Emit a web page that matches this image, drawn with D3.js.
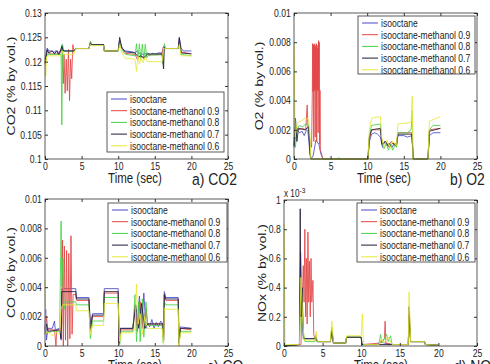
<!DOCTYPE html>
<html>
<head>
<meta charset="utf-8">
<script src="https://cdn.jsdelivr.net/npm/d3@7"></script>
<style>
  body { margin: 0; background: #fff; }
  svg { display: block; font-family: "Liberation Sans", Arial, sans-serif; }
</style>
</head>
<body>
<div id="chart"></div>
<script>
// series names and colours, in legend order
var seriesNames = ["isooctane", "isooctane-methanol 0.9", "isooctane-methanol 0.8",
                   "isooctane-methanol 0.7", "isooctane-methanol 0.6"];
var seriesColors = ["#4848c8", "#e24444", "#44d244", "#1c1c3c", "#e8e836"];

var xTicks = [0, 5, 10, 15, 20, 25];
var co2Ticks = [0.1, 0.105, 0.11, 0.115, 0.12, 0.125, 0.13];
var o2Ticks = [0, 0.002, 0.004, 0.006, 0.008, 0.01];
var coTicks = [0, 0.002, 0.004, 0.006, 0.008, 0.01];
var noxTicks = [0, 0.2, 0.4, 0.6, 0.8, 1];   // x 10^-3

// ---- a) CO2, [time, value] ----
var co2Iso = [[0,0.1205],[0.15,0.1215],[0.3,0.1228],[0.5,0.1222],[1.0,0.1222],[1.2,0.1218],[1.4,0.1222],[1.7,0.1222],[1.8,0.1216],[2.0,0.1222],[2.2,0.1222],[2.35,0.1235],[2.5,0.1222],[4.0,0.1222],[4.2,0.1227],[6.0,0.1227],[6.2,0.1238],[6.4,0.1235],[8.0,0.1235],[8.1,0.1222],[10.0,0.1222],[10.2,0.1245],[10.4,0.1232],[10.7,0.1225],[11.0,0.1222],[12.0,0.122],[12.3,0.1218],[12.6,0.1222],[13.0,0.1216],[13.5,0.1215],[14.0,0.1218],[14.3,0.1213],[14.7,0.1217],[15.0,0.1215],[15.5,0.1218],[16.0,0.1218],[16.2,0.1232],[16.4,0.1227],[18.2,0.1227],[18.35,0.1248],[18.6,0.1228],[18.9,0.1222],[20,0.1222]];
var co2M09 = [[0,0.1195],[0.3,0.1222],[0.6,0.1216],[1.5,0.1216],[2.0,0.1216],[2.3,0.1228],[2.5,0.1155],[2.6,0.1215],[2.75,0.1135],[2.9,0.1205],[3.05,0.114],[3.2,0.1225],[3.35,0.112],[3.5,0.1205],[3.65,0.1165],[3.8,0.1235],[3.95,0.1222],[4.2,0.1227],[6.0,0.1227],[6.2,0.124],[6.4,0.1235],[8.0,0.1235],[8.1,0.1222],[10.0,0.1222],[10.2,0.1243],[10.5,0.1228],[11,0.1217],[12.3,0.1215],[12.6,0.1205],[13.0,0.1212],[13.5,0.1208],[14.0,0.1214],[15,0.1214],[16.0,0.1215],[16.2,0.1232],[16.4,0.1227],[18.2,0.1227],[18.35,0.1245],[18.6,0.122],[20,0.1216]];
var co2M08 = [[0,0.1195],[0.3,0.1215],[2.0,0.1215],[2.2,0.1215],[2.3,0.107],[2.4,0.1235],[2.5,0.1222],[4.0,0.1222],[4.2,0.1227],[6.0,0.1227],[6.2,0.1242],[6.4,0.1235],[8.0,0.1235],[8.1,0.1222],[10.0,0.1222],[10.2,0.124],[10.6,0.1222],[11,0.1215],[12.3,0.1212],[12.5,0.1237],[12.7,0.1205],[12.9,0.1237],[13.1,0.1205],[13.3,0.1236],[13.5,0.1205],[13.7,0.1236],[13.9,0.1208],[14.2,0.1214],[16.0,0.1214],[16.15,0.1195],[16.3,0.1237],[16.45,0.1227],[18.2,0.1227],[18.35,0.124],[18.6,0.1215],[20,0.1212]];
var co2M07 = [[0,0.1198],[0.3,0.1225],[0.5,0.1218],[1.0,0.1222],[1.3,0.1216],[1.6,0.1222],[1.9,0.1215],[2.1,0.1222],[2.3,0.1232],[2.5,0.1222],[4.0,0.1222],[4.2,0.1227],[6.0,0.1227],[6.2,0.1238],[6.4,0.1235],[8.0,0.1235],[8.1,0.1222],[10.0,0.1222],[10.2,0.125],[10.5,0.1228],[11,0.122],[12.3,0.1218],[12.7,0.121],[13.1,0.1212],[13.5,0.1208],[14.0,0.1216],[16.0,0.1216],[16.2,0.1185],[16.3,0.123],[16.45,0.1227],[18.2,0.1227],[18.35,0.125],[18.6,0.1218],[20,0.1216]];
var co2M06 = [[0,0.1205],[0.1,0.117],[0.2,0.121],[0.4,0.1212],[2.0,0.1212],[2.2,0.1212],[2.4,0.1222],[2.6,0.1215],[3.9,0.1215],[4.2,0.1227],[6.0,0.1227],[6.2,0.1236],[6.4,0.1233],[8.0,0.1233],[8.1,0.1222],[10.0,0.1222],[10.2,0.1235],[10.6,0.1215],[11,0.1207],[12.3,0.1205],[12.5,0.118],[12.7,0.1212],[12.9,0.1195],[13.1,0.1208],[13.4,0.1198],[13.7,0.121],[14.0,0.12],[16.0,0.12],[16.2,0.1228],[16.4,0.1227],[18.2,0.1227],[18.35,0.1235],[18.6,0.1212],[20,0.1212]];

// ---- b) O2 ----
var o2Iso = [[0,0.0008],[0.1,0.0012],[0.3,0.0022],[0.5,0.0019],[0.8,0.0018],[1.1,0.0019],[1.4,0.0016],[1.7,0.002],[1.9,0.0019],[2.1,0.0008],[2.3,0],[2.6,0.0002],[3.0,0.0013],[3.4,0.001],[3.7,0.0003],[4.0,0],[10.1,0],[10.3,0.0012],[10.6,0.0017],[11.0,0.0018],[11.4,0.0017],[11.8,0.0015],[12.1,0.0008],[12.4,0.0012],[12.7,0.0009],[13.0,0.0011],[13.4,0.0008],[13.7,0.0011],[14.0,0.0009],[14.2,0.0016],[15.0,0.0016],[15.5,0.0015],[16.1,0.0016],[16.2,0.0008],[16.3,0],[18.3,0],[18.5,0.0016],[19.0,0.0018],[20,0.0018]];
var o2M09 = [[0,0.001],[0.3,0.0022],[0.6,0.002],[1.2,0.0021],[1.6,0.002],[1.8,0.0037],[1.9,0.0022],[2.2,0.0012],[2.4,0.0008],[2.5,0.0045],[2.55,0.0079],[2.6,0.0046],[2.65,0.0078],[2.7,0.0012],[2.75,0.0079],[2.8,0.0047],[2.85,0.0078],[2.9,0.0015],[2.95,0.0077],[3.0,0.0047],[3.05,0.0079],[3.1,0.0012],[3.15,0.0078],[3.2,0.0047],[3.25,0.0076],[3.3,0.0018],[3.35,0.0081],[3.4,0.0047],[3.45,0.008],[3.5,0.001],[3.55,0.0047],[3.6,0.0006],[3.8,0.0003],[3.9,0],[10.1,0],[10.3,0.0014],[10.6,0.002],[11.8,0.002],[12.1,0.001],[12.5,0.0012],[12.9,0.0009],[13.3,0.0012],[13.7,0.0009],[14.0,0.0011],[14.2,0.0018],[16.1,0.0018],[16.3,0],[18.3,0],[18.5,0.002],[20,0.0021]];
var o2M08 = [[0,0.0015],[0.2,0.0008],[0.4,0.002],[0.7,0.0023],[1.2,0.0022],[1.6,0.0024],[2.0,0.0023],[2.2,0.0005],[2.3,0],[6.0,0],[6.1,0.0001],[6.2,0],[10.1,0],[10.3,0.0017],[10.6,0.0023],[11.8,0.0024],[12.0,0.0012],[12.3,0.0007],[12.6,0.0011],[12.9,0.0006],[13.2,0.001],[13.5,0.0006],[13.8,0.001],[14.0,0.0008],[14.2,0.0018],[15.5,0.0018],[16.0,0.002],[16.15,0.0033],[16.25,0],[18.3,0],[18.5,0.002],[19,0.0023],[20,0.0023]];
var o2M07 = [[0,0.0009],[0.2,0.0028],[0.4,0.0012],[0.6,0.0021],[1.5,0.002],[2.0,0.0022],[2.2,0.0003],[2.3,0],[10.1,0],[10.3,0.0015],[10.6,0.002],[11.8,0.0021],[12.0,0.001],[12.5,0.0012],[13,0.0008],[13.5,0.0011],[14.0,0.0009],[14.2,0.0017],[16.1,0.0017],[16.3,0],[18.3,0],[18.5,0.0019],[20,0.0021]];
var o2M06 = [[0,0.008],[0.08,0.005],[0.15,0.0015],[0.3,0.002],[0.5,0.0025],[1.0,0.0026],[1.5,0.0028],[2.0,0.0027],[2.2,0.0015],[2.3,0],[10.1,0],[10.3,0.002],[10.6,0.0028],[11.8,0.0029],[12.0,0.0014],[12.3,0.0008],[12.7,0.0013],[13.1,0.0007],[13.5,0.0012],[14.0,0.0009],[14.2,0.0024],[16.0,0.0025],[16.15,0.0043],[16.25,0],[18.3,0],[18.5,0.0026],[20,0.0029]];

// ---- c) CO ----
var coIso = [[0,0.001],[0.1,0.0025],[0.2,0.0004],[0.4,0.0012],[1.0,0.0012],[1.3,0.0017],[1.4,0.0011],[2.0,0.0012],[2.2,0.0004],[2.3,0.0039],[4.2,0.0039],[4.3,0.0033],[6.0,0.0033],[6.2,0.0015],[6.5,0.0022],[8.0,0.0022],[8.1,0.0039],[10.0,0.0039],[10.1,0.0003],[10.3,0.0012],[12.0,0.0012],[12.3,0.0025],[12.6,0.0015],[12.9,0.0034],[13.2,0.0012],[13.5,0.0036],[13.8,0.0012],[14.0,0.0016],[14.3,0.0013],[14.6,0.0018],[14.9,0.0012],[15.2,0.0016],[15.5,0.0013],[15.8,0.0017],[16.1,0.0015],[16.2,0.0004],[16.3,0.0037],[16.5,0.0033],[18.2,0.0033],[18.3,0.0003],[18.5,0.0013],[20,0.0012]];
var coM09 = [[0,0.0012],[0.2,0.002],[0.4,0.0011],[1.3,0.0011],[1.5,0],[1.6,0.0011],[2.1,0.0011],[2.3,0.0015],[2.4,0.0072],[2.5,0],[2.65,0.0068],[2.8,0.0004],[2.95,0.0065],[3.1,0],[3.25,0.0063],[3.4,0.0005],[3.55,0.0075],[3.7,0.0008],[3.85,0.0035],[4.2,0.0035],[4.3,0.0031],[6.0,0.0031],[6.2,0.001],[6.5,0.002],[8.0,0.002],[8.1,0.0036],[10.0,0.0036],[10.1,0.0002],[10.3,0.0011],[12.0,0.0011],[12.3,0.0028],[12.6,0.001],[13,0.003],[13.4,0.0012],[13.8,0.0026],[14.0,0.0015],[16.1,0.0015],[16.2,0.0003],[16.3,0.0035],[16.5,0.0031],[18.2,0.0031],[18.3,0],[18.5,0.0012],[20,0.0011]];
var coM08 = [[0,0.001],[0.3,0.0009],[1.0,0.001],[2.0,0.001],[2.2,0.0085],[2.3,0.004],[2.45,0.006],[2.6,0.0025],[2.8,0.003],[4.2,0.003],[4.3,0.0028],[6.0,0.0028],[6.2,0.0005],[6.5,0.0017],[8.0,0.0017],[8.1,0.0033],[10.0,0.0033],[10.2,0.0001],[10.4,0.001],[12.0,0.001],[12.3,0.0035],[12.5,0.0003],[12.8,0.003],[13.0,0.0003],[13.3,0.0032],[13.5,0.0006],[13.8,0.003],[14.0,0.0014],[16.0,0.0014],[16.15,0.0002],[16.3,0.003],[16.5,0.0028],[18.2,0.0028],[18.3,0.0001],[18.5,0.001],[20,0.001]];
var coM07 = [[0,0.0008],[0.2,0.0015],[0.4,0.001],[2.0,0.0011],[2.2,0.0005],[2.3,0.0037],[4.2,0.0037],[4.3,0.0032],[6.0,0.0032],[6.2,0.0012],[6.5,0.0021],[8.0,0.0021],[8.1,0.0037],[10,0.0037],[10.1,0.0002],[10.3,0.0012],[12,0.0012],[12.4,0.0028],[12.8,0.0012],[13.2,0.0029],[13.6,0.0012],[14,0.0015],[16.1,0.0015],[16.2,0.0004],[16.3,0.0035],[16.5,0.0032],[18.2,0.0032],[18.3,0.0002],[18.5,0.0012],[20,0.0012]];
var coM06 = [[0,0.0045],[0.1,0.0008],[0.3,0.001],[1.0,0.0007],[1.5,0.0009],[2.0,0.0008],[2.2,0.0025],[2.4,0.0028],[4.2,0.0028],[4.3,0.0024],[6.0,0.0024],[6.2,0.0008],[6.5,0.0014],[8,0.0014],[8.1,0.0029],[10,0.0029],[10.2,0.0003],[10.4,0.0009],[12,0.0009],[12.3,0.0012],[12.5,0.0042],[12.7,0.0015],[13,0.0022],[13.3,0.0008],[13.6,0.002],[14,0.0012],[16,0.0012],[16.2,0.0001],[16.3,0.0026],[16.5,0.0025],[18.2,0.0025],[18.3,0],[18.5,0.0009],[20,0.0009]];

// ---- d) NOx, in units of 1e-3 ----
var noxIso = [[0,0],[2.0,0.01],[2.15,0.64],[2.3,0.3],[2.5,0.07],[2.7,0.05],[4,0.05],[4.1,0.07],[4.3,0.03],[6,0.03],[6.2,0.1],[6.4,0.02],[8,0.02],[8.1,0.06],[10,0.06],[10.1,0.01],[12,0.01],[12.5,0.03],[13,0.02],[14,0.01],[16.1,0.01],[16.2,0.2],[16.4,0.03],[18.2,0.03],[18.3,0.01],[20,0.005]];
var noxM09 = [[0,0],[2.2,0.01],[2.35,0.3],[2.5,0.55],[2.6,0.3],[2.7,0.8],[2.8,0.2],[2.9,0.6],[3.0,0.15],[3.1,0.78],[3.2,0.3],[3.3,0.58],[3.4,0.2],[3.5,0.6],[3.6,0.3],[3.75,0.45],[3.85,0.08],[4.0,0.05],[4.3,0.03],[6.0,0.03],[6.2,0.12],[6.4,0.02],[8,0.02],[8.1,0.06],[10,0.06],[10.1,0.01],[12.5,0.02],[13.0,0.05],[13.1,0.17],[13.2,0.02],[14,0.01],[16.1,0.01],[16.2,0.22],[16.4,0.03],[18.2,0.03],[18.3,0.01],[20,0.005]];
var noxM08 = [[0,0],[2.0,0.01],[2.2,0.45],[2.35,0.3],[2.5,0.1],[2.7,0.03],[4,0.03],[4.1,0.08],[4.3,0.03],[6,0.03],[6.2,0.13],[6.4,0.02],[8,0.02],[8.1,0.06],[10,0.06],[10.1,0.01],[12.3,0.01],[12.5,0.08],[12.7,0.02],[13.3,0.08],[13.5,0.03],[13.8,0.07],[14,0.01],[16.1,0.01],[16.2,0.18],[16.4,0.03],[18.2,0.03],[18.3,0.01],[20,0.005]];
var noxM07 = [[0,0],[2.0,0.01],[2.1,0.94],[2.2,0.2],[2.35,0.4],[2.5,0.05],[4,0.05],[4.1,0.06],[4.3,0.03],[6,0.03],[6.2,0.1],[6.4,0.02],[8,0.02],[8.1,0.06],[10,0.06],[10.1,0.01],[14,0.01],[16.1,0.01],[16.2,0.27],[16.4,0.03],[18.2,0.03],[18.3,0.01],[20,0.005]];
var noxM06 = [[0,0.84],[0.08,0.4],[0.15,0.01],[2.0,0.01],[2.2,0.47],[2.4,0.2],[2.6,0.04],[4,0.04],[4.15,0.1],[4.3,0.03],[6,0.03],[6.2,0.17],[6.4,0.02],[8,0.02],[8.1,0.07],[10,0.07],[10.15,0.22],[10.3,0.01],[12.3,0.01],[12.6,0.05],[12.9,0.02],[13.5,0.06],[14,0.01],[16.1,0.01],[16.2,0.37],[16.4,0.03],[18.2,0.03],[18.3,0.01],[20,0.005]];

var SQ = "scale(0.82,1)";      // the picture is squeezed sideways
var SQ_LEG = "scale(0.78,1)";

var svg = d3.select("#chart").append("svg")
    .attr("width", 490)
    .attr("height", 364);

/**
 * Draws one sub plot: box, ticks, lines, legend and labels
 */
function drawPanel(p){
    var x = d3.scaleLinear().domain([0, 25]).range([p.left, p.right]);
    var y = d3.scaleLinear().domain([p.yTicks[0], p.yTicks[p.yTicks.length - 1]]).range([p.bottom, p.top]);
    var fmt = function(d){ return String(+d.toFixed(4)); };

    var g = svg.append("g");

    // lines, first series at the bottom
    var line = d3.line().x(function(d){ return x(d[0]); }).y(function(d){ return y(d[1]); });
    p.series.forEach(function(s, i){
        g.append("path")
            .datum(s)
            .attr("d", line)
            .attr("fill", "none")
            .attr("stroke", seriesColors[i])
            .attr("stroke-width", 0.85)
            .attr("stroke-linejoin", "round");
    });

    // axes, ticks pointing in
    var axB = g.append("g").attr("transform", "translate(0," + p.bottom + ")")
        .call(d3.axisBottom(x).tickValues(xTicks).tickSizeInner(-3).tickSizeOuter(0).tickPadding(4));
    var axT = g.append("g").attr("transform", "translate(0," + p.top + ")")
        .call(d3.axisTop(x).tickValues(xTicks).tickSizeInner(-3).tickSizeOuter(0).tickFormat(""));
    var axL = g.append("g").attr("transform", "translate(" + p.left + ",0)")
        .call(d3.axisLeft(y).tickValues(p.yTicks).tickSizeInner(-3).tickSizeOuter(0).tickPadding(4).tickFormat(fmt));
    var axR = g.append("g").attr("transform", "translate(" + p.right + ",0)")
        .call(d3.axisRight(y).tickValues(p.yTicks).tickSizeInner(-3).tickSizeOuter(0).tickFormat(""));

    [axB, axT, axL, axR].forEach(function(a){
        a.select(".domain").remove();
        a.selectAll(".tick line").attr("stroke", "#333");
        a.selectAll(".tick text")
            .attr("fill", "#222")
            .style("font-size", "10.5px")
            .style("font-family", "'Liberation Sans', Arial, sans-serif")
            .attr("transform", SQ);
    });

    g.append("rect")
        .attr("x", p.left).attr("y", p.top)
        .attr("width", p.right - p.left).attr("height", p.bottom - p.top)
        .attr("fill", "none").attr("stroke", "#333").attr("stroke-width", 0.8);

    // legend
    var lg = p.legend;
    g.append("rect")
        .attr("x", lg.x).attr("y", lg.y).attr("width", lg.w).attr("height", lg.h)
        .attr("fill", "#fff").attr("stroke", "#333").attr("stroke-width", 0.8);
    seriesNames.forEach(function(name, i){
        var ly = lg.y + 7 + i * 11.7;
        g.append("line")
            .attr("x1", lg.x + 4).attr("x2", lg.x + 20)
            .attr("y1", ly).attr("y2", ly)
            .attr("stroke", seriesColors[i]).attr("stroke-width", 1);
        g.append("text")
            .attr("transform", "translate(" + (lg.x + 23) + "," + (ly + 4) + ") " + SQ_LEG)
            .attr("fill", "#222")
            .style("font-size", "11px")
            .text(name);
    });

    // axis labels
    g.append("text")
        .attr("transform", "translate(" + p.yLabelX + "," + ((p.top + p.bottom) / 2) + ") " + SQ + " rotate(-90)")
        .attr("text-anchor", "middle")
        .attr("fill", "#222")
        .style("font-size", "14px")
        .text(p.yLabel);
    g.append("text")
        .attr("transform", "translate(" + p.xLabelX + "," + (p.bottom + 24) + ") " + SQ)
        .attr("text-anchor", "middle")
        .attr("fill", "#222")
        .style("font-size", "14px")
        .text("Time (sec)");
    g.append("text")
        .attr("transform", "translate(" + p.titleX + "," + (p.bottom + 26) + ") " + SQ)
        .attr("fill", "#222")
        .style("font-size", "17px")
        .text(p.title);

    if (p.exponent) {
        var ex = g.append("text")
            .attr("transform", "translate(" + p.left + "," + (p.top - 3) + ") " + SQ)
            .attr("fill", "#222")
            .style("font-size", "10px");
        ex.append("tspan").text("x 10");
        ex.append("tspan").attr("dy", -4).style("font-size", "8px").text(p.exponent);
    }
}

var panels = [
    {left: 45, right: 228, top: 13, bottom: 159, yTicks: co2Ticks,
     series: [co2Iso, co2M09, co2M08, co2M07, co2M06],
     legend: {x: 107, y: 92, w: 117, h: 60},
     yLabel: "CO2 (% by vol.)", yLabelX: 15, xLabelX: 135, title: "a) CO2", titleX: 192},
    {left: 294, right: 477, top: 13, bottom: 159, yTicks: o2Ticks,
     series: [o2Iso, o2M09, o2M08, o2M07, o2M06],
     legend: {x: 358, y: 16, w: 117, h: 58},
     yLabel: "O2 (% by vol.)", yLabelX: 263, xLabelX: 384, title: "b) O2", titleX: 450},
    {left: 45, right: 228, top: 199, bottom: 346, yTicks: coTicks,
     series: [coIso, coM09, coM08, coM07, coM06],
     legend: {x: 108, y: 203, w: 119, h: 59},
     yLabel: "CO (% by vol.)", yLabelX: 15, xLabelX: 135, title: "c) CO", titleX: 207},
    {left: 284, right: 477, top: 200, bottom: 346, yTicks: noxTicks,
     series: [noxIso, noxM09, noxM08, noxM07, noxM06],
     legend: {x: 357, y: 203, w: 118, h: 59},
     yLabel: "NOx (% by vol.)", yLabelX: 266, xLabelX: 381, title: "d) NOx", titleX: 454,
     exponent: "-3"}
];

panels.forEach(drawPanel);
</script>
</body>
</html>
